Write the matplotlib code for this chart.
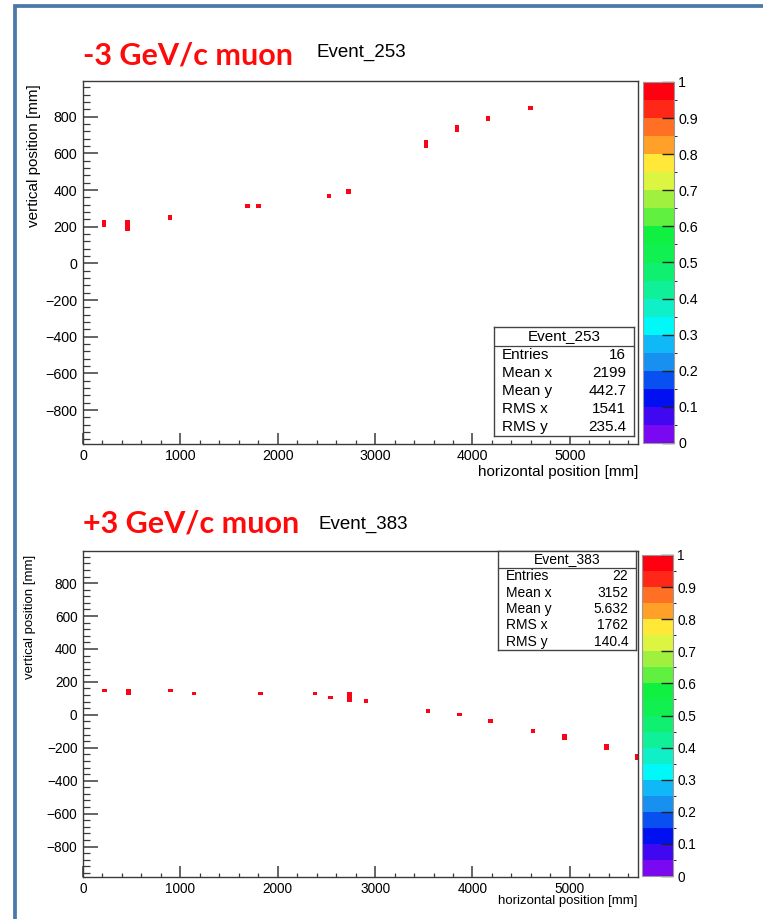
import matplotlib
matplotlib.use('Agg')
import matplotlib.pyplot as plt
import numpy as np
from matplotlib.colors import ListedColormap, BoundaryNorm
from matplotlib.cm import ScalarMappable
from matplotlib.patches import Rectangle
from matplotlib.ticker import MultipleLocator

W, H = 763, 919
plt.rcParams['font.family'] = ['Liberation Sans', 'DejaVu Sans']

# ROOT-like rainbow palette, 20 contour bands (bottom -> top)
palette = ['#7a08f0', '#4008f0', '#0010f0', '#0850f0', '#1890f0',
           '#10b8f8', '#00f8f8', '#10f0c8', '#10f098', '#10f070',
           '#10f050', '#10f040', '#60f040', '#a0f040', '#dcf540',
           '#ffe838', '#ffa028', '#ff7025', '#ff2818', '#ff0010']
levels = np.linspace(0, 1, 21)
cbar_ticks = np.arange(0, 1.01, 0.1)
cbar_labels = ['0', '0.1', '0.2', '0.3', '0.4', '0.5', '0.6', '0.7', '0.8', '0.9', '1']

# -3 GeV/c muon, Event_253 : hit x [mm], y range [mm]
ev1_x = [216, 455, 894, 1687, 1805, 2526, 2727, 3523, 3840, 4158, 4598]
ev1_ylo = [198, 179, 238, 300, 300, 359, 381, 632, 715, 778, 838]
ev1_yhi = [238, 238, 262, 322, 322, 381, 406, 675, 757, 802, 861]
ev1_stats = [('Entries', '16'), ('Mean x', '2199'), ('Mean y', '442.7'),
             ('RMS x', '1541'), ('RMS y', '235.4')]

# +3 GeV/c muon, Event_383
ev2_x = [222, 466, 898, 1141, 1825, 2382, 2541, 2740, 2905, 3543, 3865,
         4182, 4623, 4944, 5375, 5690]
ev2_ylo = [136, 118, 136, 118, 118, 118, 95, 77, 74, 11, -9, -50, -111, -154, -215, -276]
ev2_yhi = [158, 158, 158, 139, 139, 139, 117, 138, 96, 33, 13, -28, -89, -114, -177, -237]
ev2_stats = [('Entries', '22'), ('Mean x', '3152'), ('Mean y', '5.632'),
             ('RMS x', '1762'), ('RMS y', '140.4')]

hit_color = '#fa0418'
frame_col = '#3a3a3a'


def px(x, y, w, h):
    return [x / W, 1 - (y + h) / H, w / W, h / H]


def panel(fig, ax_box, cb_box, st_box, title, ttl_pos, name, name_pos,
          xs, ylo, yhi, stats, fs, lab_fs, st_fs, ylab_x, xlab_dy):
    ax = fig.add_axes(px(*ax_box))
    ax.bar(xs, np.array(yhi) - np.array(ylo), bottom=ylo, width=48,
           color=hit_color, linewidth=0)
    ax.set_xlim(0, 5700)
    ax.set_ylim(-985, 995)
    ax.xaxis.set_major_locator(MultipleLocator(1000))
    ax.xaxis.set_minor_locator(MultipleLocator(200))
    ax.yaxis.set_major_locator(MultipleLocator(200))
    ax.yaxis.set_minor_locator(MultipleLocator(40))
    for s in ax.spines.values():
        s.set_color(frame_col)
        s.set_linewidth(1.0)
    ax.tick_params(axis='both', which='both', direction='in', color=frame_col,
                   labelsize=fs, top=False, right=False)
    ax.tick_params(axis='y', which='major', length=10.5, width=1.1, pad=4)
    ax.tick_params(axis='y', which='minor', length=5.3, width=0.9)
    ax.tick_params(axis='x', which='major', length=7.9, width=1.1, pad=3.5)
    ax.tick_params(axis='x', which='minor', length=3.2, width=0.9)
    ax.set_xlabel('horizontal position [mm]', loc='right', fontsize=lab_fs)
    ax.xaxis.set_label_coords(1.0, -xlab_dy / ax_box[3])
    ax.xaxis.label.set_va('center')
    ax.set_ylabel('vertical position [mm]', loc='top', fontsize=lab_fs)
    ax.yaxis.set_label_coords(ylab_x, 0.99)

    cax = fig.add_axes(px(*cb_box))
    sm = ScalarMappable(norm=BoundaryNorm(levels, len(palette)),
                        cmap=ListedColormap(palette))
    cb = fig.colorbar(sm, cax=cax, ticks=cbar_ticks)
    cb.ax.set_yticklabels(cbar_labels)
    cb.outline.set_edgecolor('#999999')
    cb.outline.set_linewidth(0.8)
    cb.ax.tick_params(direction='in', length=9, width=1.0, color='#222222',
                      labelsize=fs, pad=3)

    sax = fig.add_axes(px(*st_box))
    sax.set_xticks([])
    sax.set_yticks([])
    for s in sax.spines.values():
        s.set_color('#444444')
        s.set_linewidth(1.0)
    n = len(stats)
    hdr = 1.0 / (n + 1)
    sax.axhline(1 - hdr * 1.05, color='#444444', lw=0.9)
    sax.text(0.5, 1 - hdr * 0.5, name, ha='center', va='center', fontsize=st_fs)
    for i, (k, v) in enumerate(stats):
        yy = 1 - hdr * 1.05 - (i + 0.5) * (1 - hdr * 1.05) / n
        sax.text(0.055, yy, k, ha='left', va='center', fontsize=st_fs)
        sax.text(0.945, yy, v, ha='right', va='center', fontsize=st_fs)

    fig.text(ttl_pos[0] / W, 1 - ttl_pos[1] / H, title, color='#ff0a0a',
             fontsize=22, fontweight='bold', family='Lato', va='baseline')
    fig.text(name_pos[0] / W, 1 - name_pos[1] / H, name, fontsize=13.5,
             va='baseline')
    return ax


fig = plt.figure(figsize=(W / 100, H / 100), dpi=100)
fig.patch.set_facecolor('white')

panel(fig, (83, 81, 555, 363), (643, 82, 31, 361), (494, 327, 140, 109),
      '-3 GeV/c muon', (83, 64), 'Event_253', (316, 57),
      ev1_x, ev1_ylo, ev1_yhi, ev1_stats, 10.3, 11.0, 11.0, -0.075, 28)
panel(fig, (83, 551, 555, 326), (642, 555, 31, 321), (498, 551, 138, 99),
      '+3 GeV/c muon', (83, 533), 'Event_383', (318, 529),
      ev2_x, ev2_ylo, ev2_yhi, ev2_stats, 9.8, 9.5, 10.0, -0.085, 24)

fig.add_artist(Rectangle((14.7 / W, -0.1), 1.5, 1 + 0.1 - 5.7 / H,
                         transform=fig.transFigure, fill=False,
                         edgecolor='#4a78a8', linewidth=2.7))

fig.savefig('out.png', dpi=100)
